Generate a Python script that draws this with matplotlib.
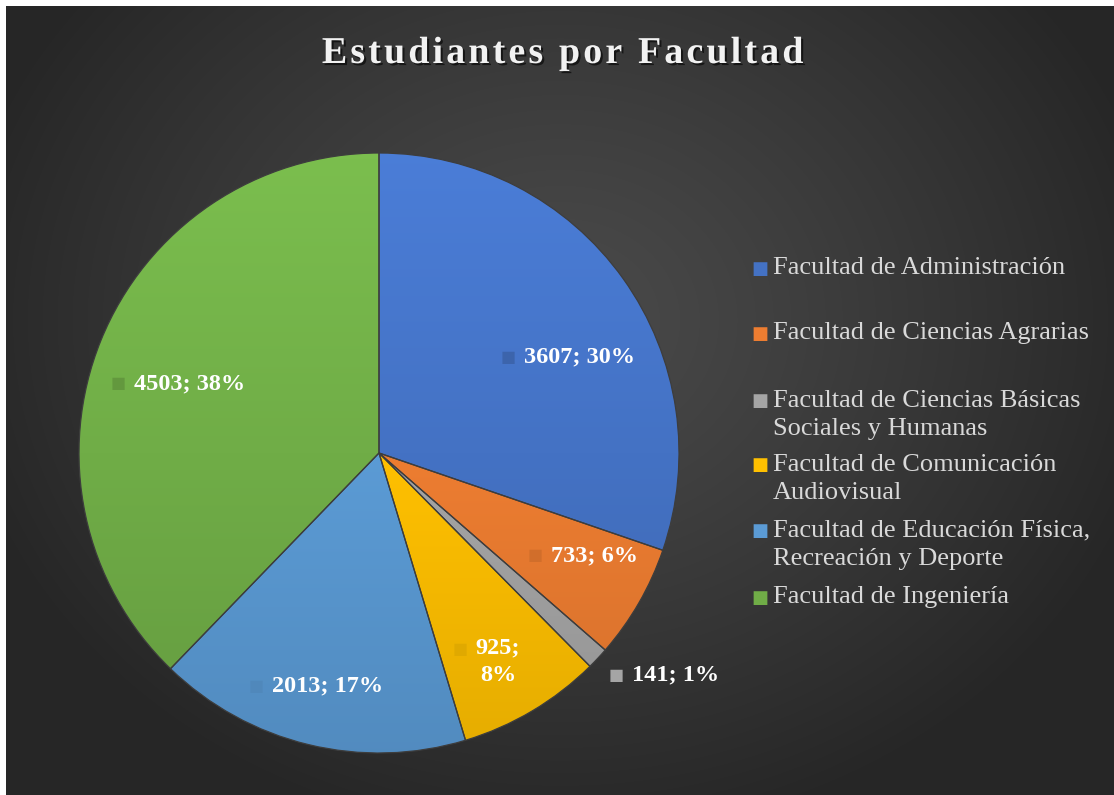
import numpy as np
import matplotlib
matplotlib.use("Agg")
import matplotlib.pyplot as plt
import matplotlib.patheffects as pe
from matplotlib.colors import to_rgb

# ---------------- data ----------------
title = "Estudiantes por Facultad"
categories = [
    "Facultad de Administración",
    "Facultad de Ciencias Agrarias",
    "Facultad de Ciencias Básicas\nSociales y Humanas",
    "Facultad de Comunicación\nAudiovisual",
    "Facultad de Educación Física,\nRecreación y Deporte",
    "Facultad de Ingeniería",
]
values = [3607, 733, 141, 925, 2013, 4503]
percent_labels = ["30%", "6%", "1%", "8%", "17%", "38%"]
colors = ["#4472C4", "#ED7D31", "#A5A5A5", "#FFC000", "#5B9BD5", "#70AD47"]

# label placement (pie data units) and line-break choice
label_pos = [(0.667, 0.32), (0.717, -0.343), (0.99, -0.74),
             (0.397, -0.697), (-0.173, -0.777), (-0.63, 0.23)]
label_sep = ["; ", "; ", "; ", ";\n", "; ", "; "]
legend_y = [268, 333, 400, 464, 530, 597]  # px from top (first line centre)

W, H = 1114, 795
DPI = 100
fig = plt.figure(figsize=(W / DPI, H / DPI), dpi=DPI)
fig.patch.set_facecolor("white")

SERIF = ["Liberation Serif", "DejaVu Serif"]

# ---------------- background (radial gradient) ----------------
bg = fig.add_axes([6 / W, 0, (W - 6) / W, (H - 6) / H])
bg.set_axis_off()
yy, xx = np.mgrid[6:H, 6:W]
d = np.sqrt((xx - 560.0) ** 2 + ((yy - 320.0) / 0.85) ** 2)
t = np.clip(d / 620.0, 0, 1) ** 1.2
v = (0x4a - (0x4a - 0x26) * t) / 255.0
img = np.dstack([v, v, v])
bg.imshow(img, aspect="auto", extent=[0, 1, 0, 1], interpolation="bilinear")
bg.set_xlim(0, 1)
bg.set_ylim(0, 1)

# ---------------- pie ----------------
cx, cy, R = 379, 453, 300
ax = fig.add_axes([(cx - R) / W, (H - cy - R) / H, 2 * R / W, 2 * R / H])
ax.set_axis_off()
wedges, _ = ax.pie(values, colors=colors, startangle=90, counterclock=False,
                   radius=1.0, wedgeprops=dict(edgecolor="#3d3d3d", linewidth=0.9))
ax.set_xlim(-1, 1)
ax.set_ylim(-1, 1)
ax.set_aspect("equal")

# subtle vertical shading on each wedge
gy = np.linspace(1, -1, 300)[:, None] * np.ones((1, 2))
for w, c in zip(wedges, colors):
    base = np.array(to_rgb(c))
    fac = 1.0 + 0.10 * gy  # lighter top, darker bottom
    grad = np.clip(base[None, None, :] * fac[:, :, None], 0, 1)
    im = ax.imshow(grad, extent=[-1, 1, -1, 1], aspect="auto", zorder=1.5,
                   interpolation="bilinear")
    im.set_clip_path(w)
    w.set_zorder(2)
    w.set_facecolor("none")

# data labels
for i, (w, val, pct, c) in enumerate(zip(wedges, values, percent_labels, colors)):
    x, y = label_pos[i]
    txt = f"{val}{label_sep[i]}{pct}"
    tobj = ax.text(x, y, txt, ha="center", va="center", color="white",
                   fontsize=17.5, fontweight="bold", family=SERIF,
                   multialignment="center", linespacing=1.4, zorder=5)
    mc = np.array(to_rgb(c)) * (0.88 if i != 2 else 1.0)
    yrel = 0.5 if "\n" not in txt else 0.76
    ax.annotate("■", xy=(0, yrel), xycoords=tobj, xytext=(-6, 0),
                textcoords="offset points", ha="right", va="center",
                color=mc, fontsize=11.5, family=["DejaVu Sans"], zorder=5)

# ---------------- title ----------------
spaced = "\u200a".join(list(title))
fig.text(0.5 + 5 / W, 1 - 63 / H, spaced, ha="center", va="baseline",
         fontsize=27.3, fontweight="bold", color="#f2f2f2", family=SERIF,
         path_effects=[pe.withSimplePatchShadow(offset=(1.5, -1.5),
                                                shadow_rgbFace="black", alpha=0.6)])

# ---------------- legend ----------------
LINE = 30  # px between wrapped lines
for lab, c, ly in zip(categories, colors, legend_y):
    nlines = lab.count("\n") + 1
    fig.text(760 / W, 1 - (ly + 1) / H, "■", ha="center", va="center",
             color=c, fontsize=13, family=["DejaVu Sans"])
    fig.text(773 / W, 1 - (ly + (nlines - 1) * LINE / 2) / H, lab,
             ha="left", va="center", color="#d9d9d9", fontsize=19,
             family=SERIF, linespacing=1.36)

fig.savefig("out.png", dpi=DPI, facecolor=fig.get_facecolor())
